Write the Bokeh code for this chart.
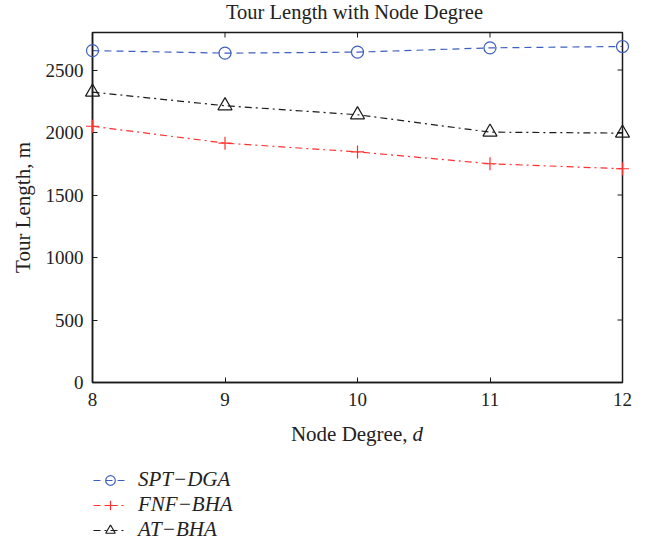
import math
from bokeh.plotting import figure
from bokeh.layouts import column
from bokeh.models import Range1d, Legend, LegendItem, FixedTicker, Label
from bokeh.embed import file_html
from bokeh.resources import INLINE

# ---- data ----
node_degree = [8, 9, 10, 11, 12]
spt_dga = [2655, 2635, 2643, 2677, 2688]
fnf_bha = [2050, 1915, 1845, 1750, 1710]
at_bha = [2323, 2214, 2142, 2003, 1995]
x_ticks = [8, 9, 10, 11, 12]
y_ticks = [0, 500, 1000, 1500, 2000, 2500]
series_names = ["SPT\u2212DGA", "FNF\u2212BHA", "AT\u2212BHA"]
title_text = "Tour Length with Node Degree"
x_label = "Node Degree,"
x_var = "d"
y_label = "Tour Length, m"

FONT = "Liberation Serif"
TXT = "#222222"
BLUE = "#3d5fbf"
RED = "#ff3030"
BLACK = "#1a1a1a"

styles = [
    dict(color=BLUE, dash="7 5", marker="circle", size=12, fill=None),
    dict(color=RED, dash="7 4 2 4", marker="cross", size=13, fill=None),
    dict(color=BLACK, dash="7 4 2 4", marker="triangle", size=14, fill=None),
]


def strip(height):
    f = figure(width=656, height=height, x_axis_type=None, y_axis_type=None,
               output_backend="svg", toolbar_location=None, min_border=0,
               x_range=Range1d(0, 1), y_range=Range1d(0, 1))
    f.grid.visible = False
    f.outline_line_color = None
    f.background_fill_color = "white"
    f.border_fill_color = "white"
    return f


# ---- title strip ----
t = strip(28)
t.add_layout(Label(x=262, y=17, x_units="screen", y_units="screen", text=title_text,
                   text_align="center", text_baseline="alphabetic", text_font=FONT,
                   text_font_size="20.5px", text_color=TXT))

# ---- main chart ----
p = figure(width=656, height=388, x_range=Range1d(8, 12), y_range=Range1d(0, 2800),
           output_backend="svg", toolbar_location=None,
           min_border_left=92, min_border_right=34, min_border_top=4, min_border_bottom=34)
p.grid.visible = False
p.outline_line_color = BLACK
p.outline_line_width = 1.5
p.background_fill_color = "white"
p.border_fill_color = "white"

xa = p.xaxis[0]
xa.ticker = FixedTicker(ticks=x_ticks)
ya = p.yaxis[0]
ya.ticker = FixedTicker(ticks=y_ticks)
for ax in (xa, ya):
    ax.major_tick_in = 5
    ax.major_tick_out = 0
    ax.minor_tick_line_color = None
    ax.axis_line_color = BLACK
    ax.axis_line_width = 1.5
    ax.major_tick_line_color = BLACK
    ax.major_label_text_font = FONT
    ax.major_label_text_font_size = "19px"
    ax.major_label_text_color = TXT
xa.major_label_standoff = 10
ya.major_label_standoff = 9
ya.axis_label = y_label
ya.axis_label_text_font = FONT
ya.axis_label_text_font_size = "21px"
ya.axis_label_text_font_style = "normal"
ya.axis_label_text_color = TXT
ya.axis_label_standoff = 8

# inward ticks on the top and right edges of the box
p.ray(x=p.x_range.end, y=y_ticks, length=5, length_units="screen", angle=math.pi,
      line_color=BLACK, line_width=1)
p.ray(x=x_ticks, y=p.y_range.end, length=5, length_units="screen", angle=-math.pi / 2,
      line_color=BLACK, line_width=1)

series = [spt_dga, fnf_bha, at_bha]
for ys, st in zip(series, styles):
    p.line(node_degree, ys, line_color=st["color"], line_width=1.2, line_dash=st["dash"])
    p.scatter(node_degree, ys, marker=st["marker"], size=st["size"], fill_color=st["fill"],
              line_color=st["color"], line_width=1.2, level="annotation")

# ---- x label + legend strip ----
q = strip(128)
q.add_layout(Label(x=315, y=111, x_units="screen", y_units="screen", text=x_label,
                   text_align="right", text_baseline="alphabetic", text_font=FONT,
                   text_font_size="21px", text_color=TXT))
q.add_layout(Label(x=320, y=111, x_units="screen", y_units="screen", text=x_var,
                   text_align="left", text_baseline="alphabetic", text_font=FONT,
                   text_font_size="21px", text_font_style="italic", text_color=TXT))
items = []
for name, ys, st in zip(series_names, series, styles):
    # same series drawn off-frame in this strip; only the legend swatch shows
    lr = q.line(node_degree, ys, line_color=st["color"], line_width=1.2, line_dash=st["dash"])
    mr = q.scatter(node_degree, ys, marker=st["marker"], size=st["size"], fill_color=st["fill"],
                   line_color=st["color"], line_width=1.2)
    items.append(LegendItem(label=name, renderers=[lr, mr]))
legend = Legend(items=items, location=(1, 2), glyph_width=34, glyph_height=24, spacing=0,
                padding=0, margin=0, label_standoff=11,
                label_text_font=FONT, label_text_font_size="21px",
                label_text_font_style="italic", label_text_color=TXT,
                border_line_color=None, background_fill_alpha=0)
q.add_layout(legend, "center")

open("out.html", "w").write(file_html(column(t, p, q, spacing=0), INLINE))
